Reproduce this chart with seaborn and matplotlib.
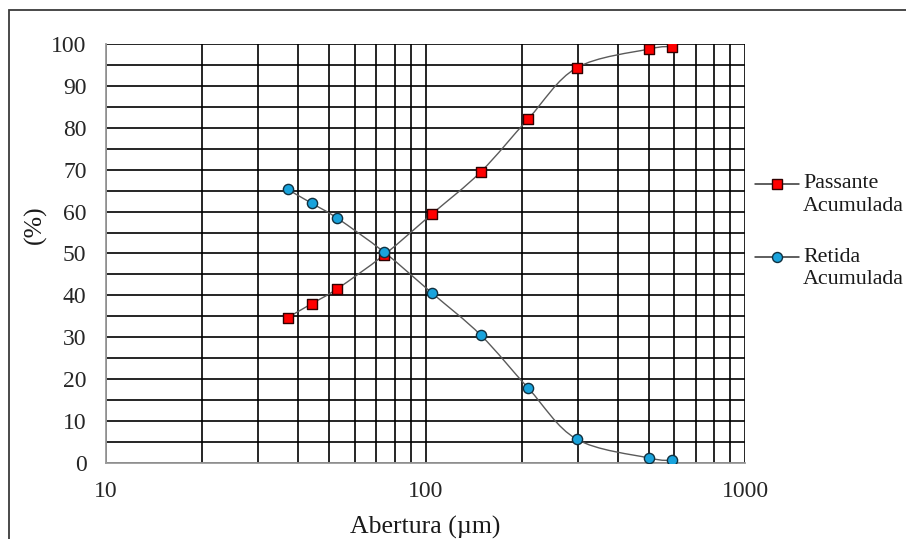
import numpy as np
import pandas as pd
import matplotlib
matplotlib.use("Agg")
import matplotlib.pyplot as plt
import seaborn as sns
from matplotlib.path import Path
from matplotlib.patches import PathPatch, Rectangle
from matplotlib.lines import Line2D
from matplotlib.ticker import FixedLocator, FixedFormatter, LogLocator, NullFormatter, MultipleLocator

# ---- data ----
abertura = [37, 44, 53, 74, 105, 149, 210, 297, 500, 590]
passante = [34.7, 38.0, 41.6, 49.6, 59.5, 69.5, 82.2, 94.3, 98.8, 99.4]
retida = [65.3, 62.0, 58.4, 50.4, 40.5, 30.5, 17.8, 5.7, 1.2, 0.6]
series_names = ["Passante\nAcumulada", "Retida\nAcumulada"]
x_ticks = [10, 100, 1000]
x_tick_labels = ["10", "100", "1000"]
y_ticks = list(range(0, 101, 10))

sns.set_style("white")
plt.rcParams['font.family'] = ['Liberation Serif', 'DejaVu Serif']

W, H = 906, 539
fig = plt.figure(figsize=(W / 100, H / 100), dpi=100)
ax = fig.add_axes([106 / W, 1 - 463 / H, (745 - 106) / W, (463 - 44) / H])


def smooth_path(xs, ys):
    """Excel-like smoothed line: Catmull-Rom segments as cubic Beziers in (log x, y)."""
    pts = np.column_stack([np.log10(xs), np.asarray(ys, float)])
    n = len(pts)
    verts = [pts[0]]
    codes = [Path.MOVETO]
    for i in range(n - 1):
        p0 = pts[i - 1] if i > 0 else pts[i]
        p1, p2 = pts[i], pts[i + 1]
        p3 = pts[i + 2] if i + 2 < n else pts[i + 1]
        verts += [p1 + (p2 - p0) / 6, p2 - (p3 - p1) / 6, p2]
        codes += [Path.CURVE4] * 3
    verts = np.array(verts)
    verts[:, 0] = 10 ** verts[:, 0]
    return Path(verts, codes)


ax.set_xscale('log')
ax.set_xlim(x_ticks[0], x_ticks[-1])
ax.set_ylim(y_ticks[0], y_ticks[-1])

line_color = '#5a5a5a'
red = '#ff0000'
blue = '#19a3dc'

for ys in (passante, retida):
    ax.add_patch(PathPatch(smooth_path(abertura, ys), facecolor='none',
                           edgecolor=line_color, lw=1.0, zorder=3))

df = pd.DataFrame({"abertura": abertura, "passante": passante, "retida": retida})
sns.scatterplot(data=df, x="abertura", y="passante", marker='s', s=46, color=red,
                edgecolor='#300000', linewidth=1.0, zorder=5, ax=ax)
sns.scatterplot(data=df, x="abertura", y="retida", marker='o', s=54, color=blue,
                edgecolor='#10303f', linewidth=1.0, zorder=5, ax=ax)

# ticks & grid
ax.xaxis.set_major_locator(FixedLocator(x_ticks))
ax.xaxis.set_major_formatter(FixedFormatter(x_tick_labels))
ax.xaxis.set_minor_locator(LogLocator(base=10, subs=np.arange(2, 10)))
ax.xaxis.set_minor_formatter(NullFormatter())
ax.yaxis.set_major_locator(FixedLocator(y_ticks))
ax.yaxis.set_minor_locator(MultipleLocator(5))

ax.grid(True, which='both', color='black', lw=1.2, zorder=1)
ax.set_axisbelow(True)
ax.tick_params(which='major', direction='out', length=5, width=1.1, color='#8c8c8c',
               labelsize=17, labelcolor='#262626')
ax.tick_params(axis='x', which='major', pad=8)
ax.tick_params(axis='y', which='major', pad=9)
ax.tick_params(which='minor', length=0)

for s in ('top', 'right'):
    ax.spines[s].set_visible(False)
for s in ('left', 'bottom'):
    ax.spines[s].set_color('#9a9a9a')
    ax.spines[s].set_linewidth(1.3)

ax.set_xlabel("Abertura (µm)", fontsize=18.5, color='#1a1a1a', va='center')
ax.xaxis.set_label_coords(0.5, (463 - 527) / (463 - 44))
ax.set_ylabel("(%)", fontsize=18.5, color='#1a1a1a', va='center')
ax.yaxis.set_label_coords((35 - 106) / (745 - 106), (463 - 225) / (463 - 44))

# legend (drawn outside on the right)
def fx(px):
    return px / W


def fy(py):
    return 1 - py / H


leg_specs = [(series_names[0], 's', red, '#300000', 184, 7.0),
             (series_names[1], 'o', blue, '#10303f', 257, 7.2)]
for name, mk, fc, ec, yc, ms in leg_specs:
    fig.add_artist(Line2D([fx(755), fx(799)], [fy(yc), fy(yc)], transform=fig.transFigure,
                          color='#333333', lw=1.1))
    fig.add_artist(Line2D([fx(777)], [fy(yc)], transform=fig.transFigure, marker=mk,
                          markersize=ms, markerfacecolor=fc, markeredgecolor=ec,
                          markeredgewidth=1.0, linestyle='none'))
    for k, part in enumerate(name.split("\n")):
        fig.text(fx(803), fy(yc + 23 * k), part, fontsize=15.8, color='#1a1a1a',
                 ha='left', va='center')

# outer chart frame
fig.add_artist(Rectangle((fx(9), -0.2), 1.5, fy(10) + 0.2, transform=fig.transFigure,
                         fill=False, edgecolor='#3a3a3a', lw=1.3, clip_on=False))

fig.savefig("out.png", dpi=100)
